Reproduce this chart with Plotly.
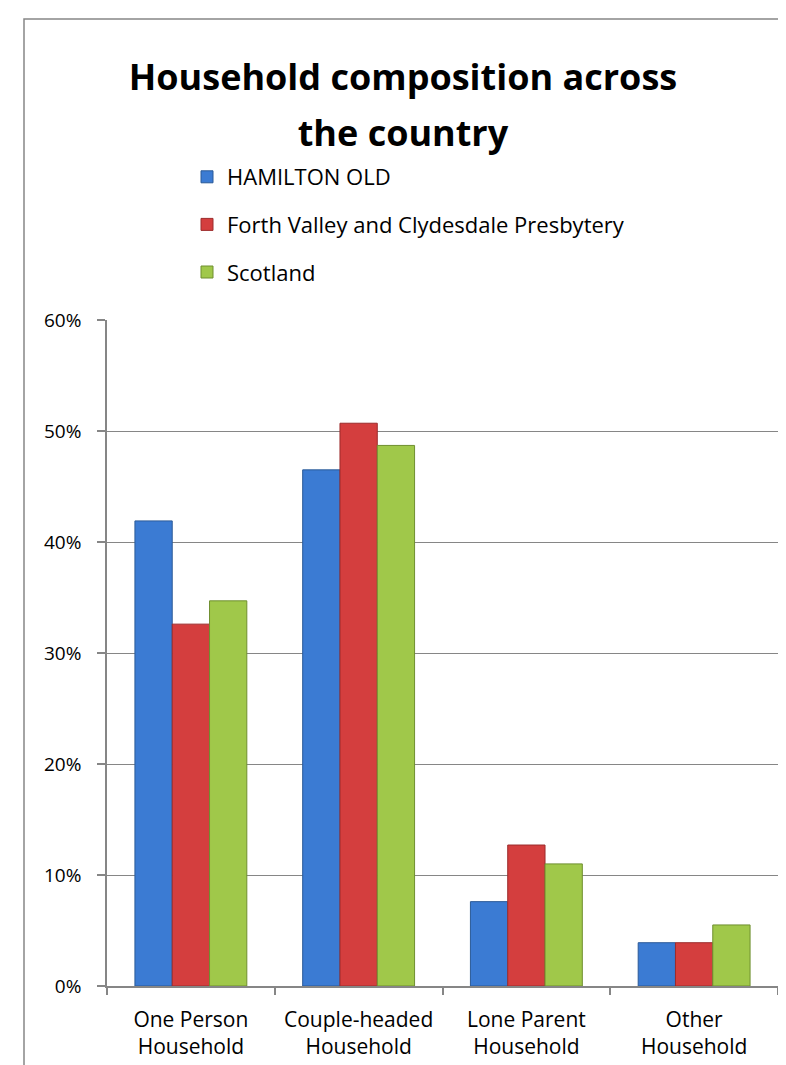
import plotly.graph_objects as go

categories = ["One Person<br>Household", "Couple-headed<br>Household", "Lone Parent<br>Household", "Other<br>Household"]
series_names = ["HAMILTON OLD", "Forth Valley and Clydesdale Presbytery", "Scotland"]
hamilton_old = [0.419, 0.465, 0.076, 0.039]
forth_valley = [0.326, 0.507, 0.127, 0.039]
scotland = [0.347, 0.487, 0.110, 0.055]
y_tick_values = [0, 0.1, 0.2, 0.3, 0.4, 0.5, 0.6]
y_tick_labels = ["0%", "10%", "20%", "30%", "40%", "50%", "60%"]
title_lines = ["Household composition across", "the country"]

colors = ["#3B7BD3", "#D43E3E", "#A0C84A"]
edge_colors = ["#2B5A98", "#9C2C2C", "#6F8F2F"]

W, H = 786, 1065
L, R, T, B = 99, 16, 312, 87
FONT = "Open Sans, Lato, sans-serif"

fig = go.Figure()
for name, vals, c, ec in zip(series_names, [hamilton_old, forth_valley, scotland], colors, edge_colors):
    fig.add_trace(go.Bar(
        x=categories, y=vals, name=name, legendgroup=name,
        marker=dict(color=c, line=dict(color=ec, width=1)),
    ))

pw = W - L - R
ph = H - T - B
def px_x(x):
    return (x - L) / pw
def px_y(y):
    return (H - B - y) / ph

fig.add_shape(type="rect", xref="paper", yref="paper",
              x0=px_x(16), x1=px_x(800), y0=px_y(1080), y1=px_y(11),
              line=dict(color="#868686", width=1.5), fillcolor="rgba(0,0,0,0)", layer="below")

title_text = "<b>" + "<br>".join("<span style='font-size:36px'>%s</span>" % t for t in title_lines) + "</b>"

fig.update_layout(
    width=W, height=H,
    margin=dict(l=L, r=R, t=T, b=B, autoexpand=False),
    paper_bgcolor="white", plot_bgcolor="white",
    font=dict(family=FONT, color="#000000"),
    title=dict(text=title_text,
               x=0.5025, xref="container", xanchor="center", y=1 - 82 / H, yanchor="middle",
               font=dict(size=43, family=FONT, color="#000000")),
    barmode="group", bargap=0.333, bargroupgap=0,
    showlegend=True,
    legend=dict(x=px_x(179), y=px_y(148), xanchor="left", yanchor="top",
                orientation="v", tracegroupgap=16, font=dict(size=22, family=FONT),
                itemwidth=30, bgcolor="rgba(0,0,0,0)", traceorder="grouped"),
    xaxis=dict(showline=True, linecolor="#868686", linewidth=1.5, automargin=False,
               ticks="outside", tickson="boundaries", ticklen=7, tickcolor="#868686", tickwidth=1.5,
               tickfont=dict(size=21, family=FONT), showgrid=False, ticklabelstandoff=14),
    yaxis=dict(range=[0, 0.6], tickvals=y_tick_values, ticktext=y_tick_labels, automargin=False,
               showline=True, linecolor="#868686", linewidth=1.5,
               ticks="outside", ticklen=8, tickcolor="#868686", tickwidth=1.5,
               showgrid=True, gridcolor="#868686", gridwidth=1.2,
               tickfont=dict(size=19, family=FONT), zeroline=False, ticklabelstandoff=12),
)

fig.write_html("out.html")
